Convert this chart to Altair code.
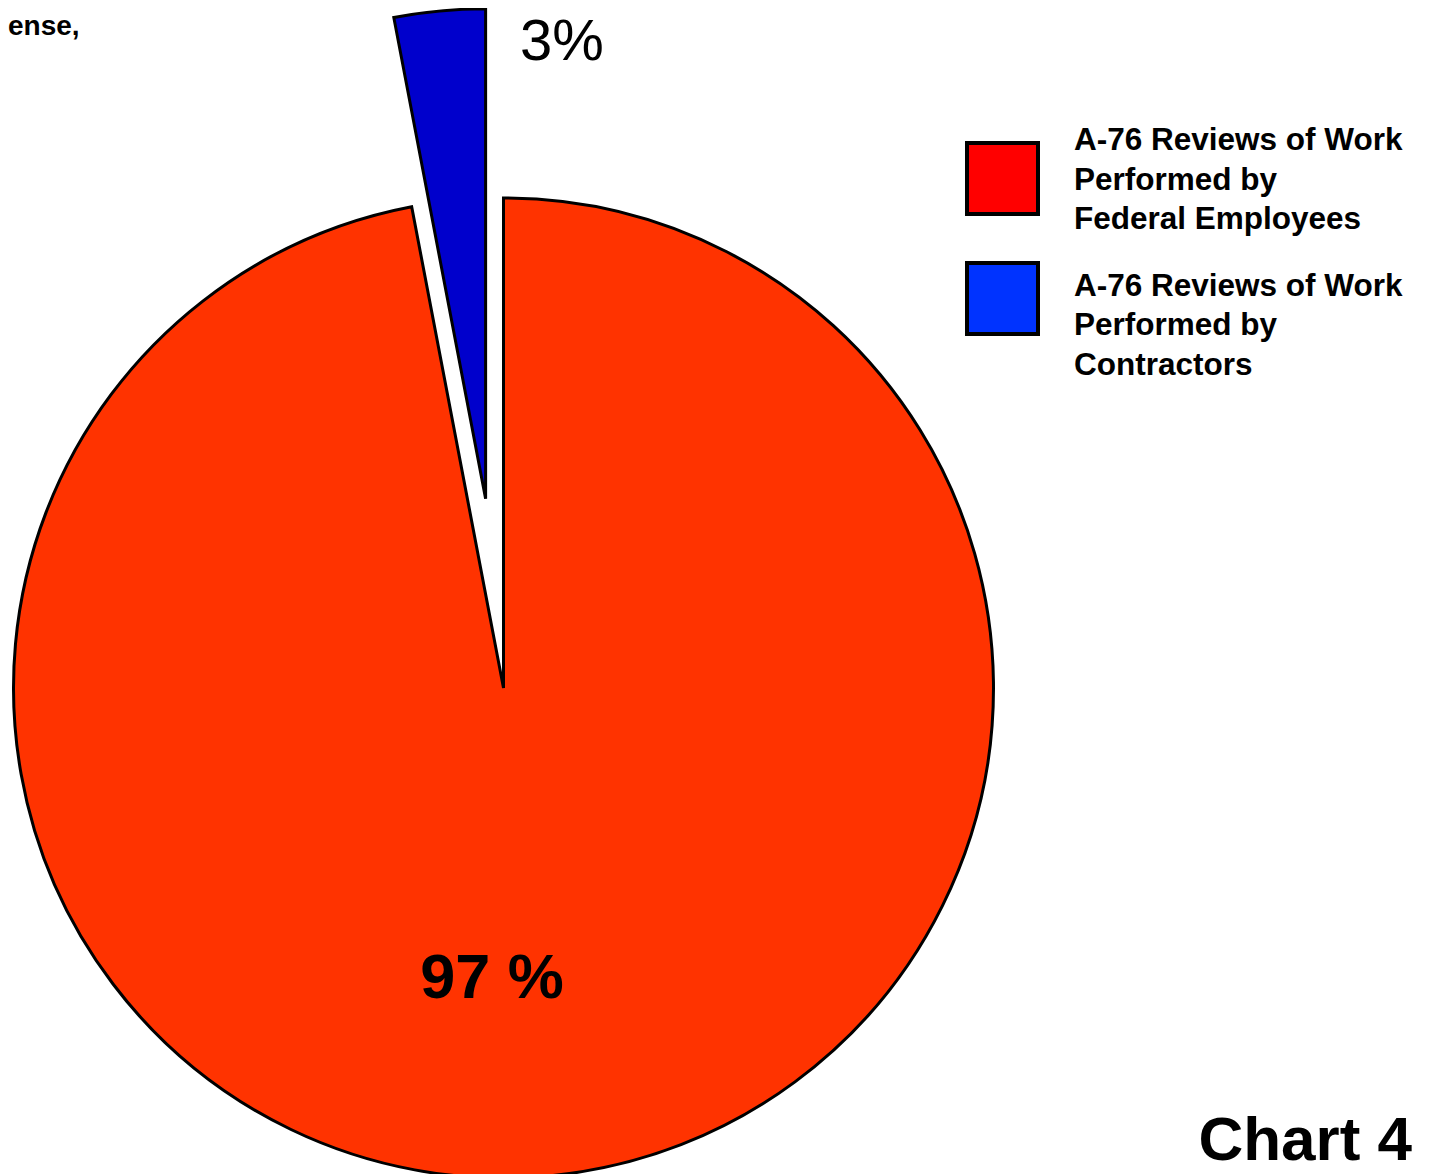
import math
import altair as alt
import pandas as pd

# ---- data ----
categories = [
    "A-76 Reviews of Work Performed by Federal Employees",
    "A-76 Reviews of Work Performed by Contractors",
]
shares = [97, 3]
order = [1, 2]
slice_colors = ["#FF3300", "#0000CC"]
legend_colors = ["#FF0000", "#0033FF"]
legend_text = [
    "A-76 Reviews of Work\nPerformed by\nFederal Employees",
    "A-76 Reviews of Work\nPerformed by\nContractors",
]
slice_labels = ["97 %", "3%"]
top_fragment = ["ense,"]
chart_title = ["Chart 4"]

df = pd.DataFrame({
    "category": categories,
    "share": shares,
    "order": order,
    "slice_color": slice_colors,
    "legend_color": legend_colors,
    "legend_text": legend_text,
    "label": slice_labels,
})

# ---- layout / style ----
W, H = 1417, 1166
CX, CY = 495.5, 680.0
R = 490
EXPLODE = 190
total = sum(shares)
mid = (shares[0] + shares[1] / 2) / total * 2 * math.pi
EX = EXPLODE * math.sin(mid)
EY = -EXPLODE * math.cos(mid)

base = alt.Chart(df).transform_window(
    end="sum(share)", sort=[alt.SortField("order")], frame=[None, 0]
).transform_calculate(start="datum.end - datum.share")

theta = alt.Theta("start:Q", scale=alt.Scale(domain=[0, total]), stack=None)

fed = base.transform_filter(alt.datum.order == 1).mark_arc(
    radius=R, stroke="black", strokeWidth=3
).encode(
    theta=theta, theta2="end:Q",
    color=alt.Color("slice_color:N", scale=None),
    x=alt.value(CX), y=alt.value(CY),
)

con = base.transform_filter(alt.datum.order == 2).mark_arc(
    radius=R, stroke="black", strokeWidth=3
).encode(
    theta=theta, theta2="end:Q",
    color=alt.Color("slice_color:N", scale=None),
    x=alt.value(CX + EX), y=alt.value(CY + EY),
)

lab97 = alt.Chart(df).transform_filter(alt.datum.order == 1).mark_text(
    font="Liberation Sans", fontWeight="bold", fontSize=63,
    align="center", baseline="alphabetic", color="black"
).encode(text="label:N", x=alt.value(484), y=alt.value(990))

lab3 = alt.Chart(df).transform_filter(alt.datum.order == 2).mark_text(
    font="Liberation Sans", fontWeight="normal", fontSize=58,
    align="left", baseline="alphabetic", color="black"
).encode(text="label:N", x=alt.value(512), y=alt.value(52))

leg_sq = alt.Chart(df).mark_square(
    size=71 * 71, stroke="black", strokeWidth=4, opacity=1
).encode(
    x=alt.value(994.5),
    y=alt.Y("category:N", scale=alt.Scale(type="point", domain=categories,
                                          range=[170.5, 290.5], padding=0), axis=None),
    color=alt.Color("legend_color:N", scale=None),
)

leg_txt = alt.Chart(df).mark_text(
    font="Liberation Sans", fontWeight="bold", fontSize=31.5,
    align="left", baseline="alphabetic", lineBreak="\n", lineHeight=39.5, color="black"
).encode(
    x=alt.value(1066),
    y=alt.Y("order:O", scale=alt.Scale(type="point", domain=order,
                                       range=[142, 287.5], padding=0), axis=None),
    text="legend_text:N",
)

frag = alt.Chart(pd.DataFrame({"t": top_fragment})).mark_text(
    font="Liberation Sans", fontWeight="bold", fontSize=28,
    align="left", baseline="alphabetic", color="black"
).encode(text="t:N", x=alt.value(0), y=alt.value(27))

title = alt.Chart(pd.DataFrame({"t": chart_title})).mark_text(
    font="Liberation Sans", fontWeight="bold", fontSize=62,
    align="right", baseline="alphabetic", color="black"
).encode(text="t:N", x=alt.value(1404), y=alt.value(1152))

chart = alt.layer(fed, con, lab97, lab3, leg_sq, leg_txt, frag, title).resolve_scale(
    y="independent"
).properties(
    width=W, height=H, autosize=alt.AutoSizeParams(type="none"), padding=0,
    background="white",
).configure_view(stroke=None)

chart.save("out.html", embed_options={"renderer": "svg", "actions": False})
